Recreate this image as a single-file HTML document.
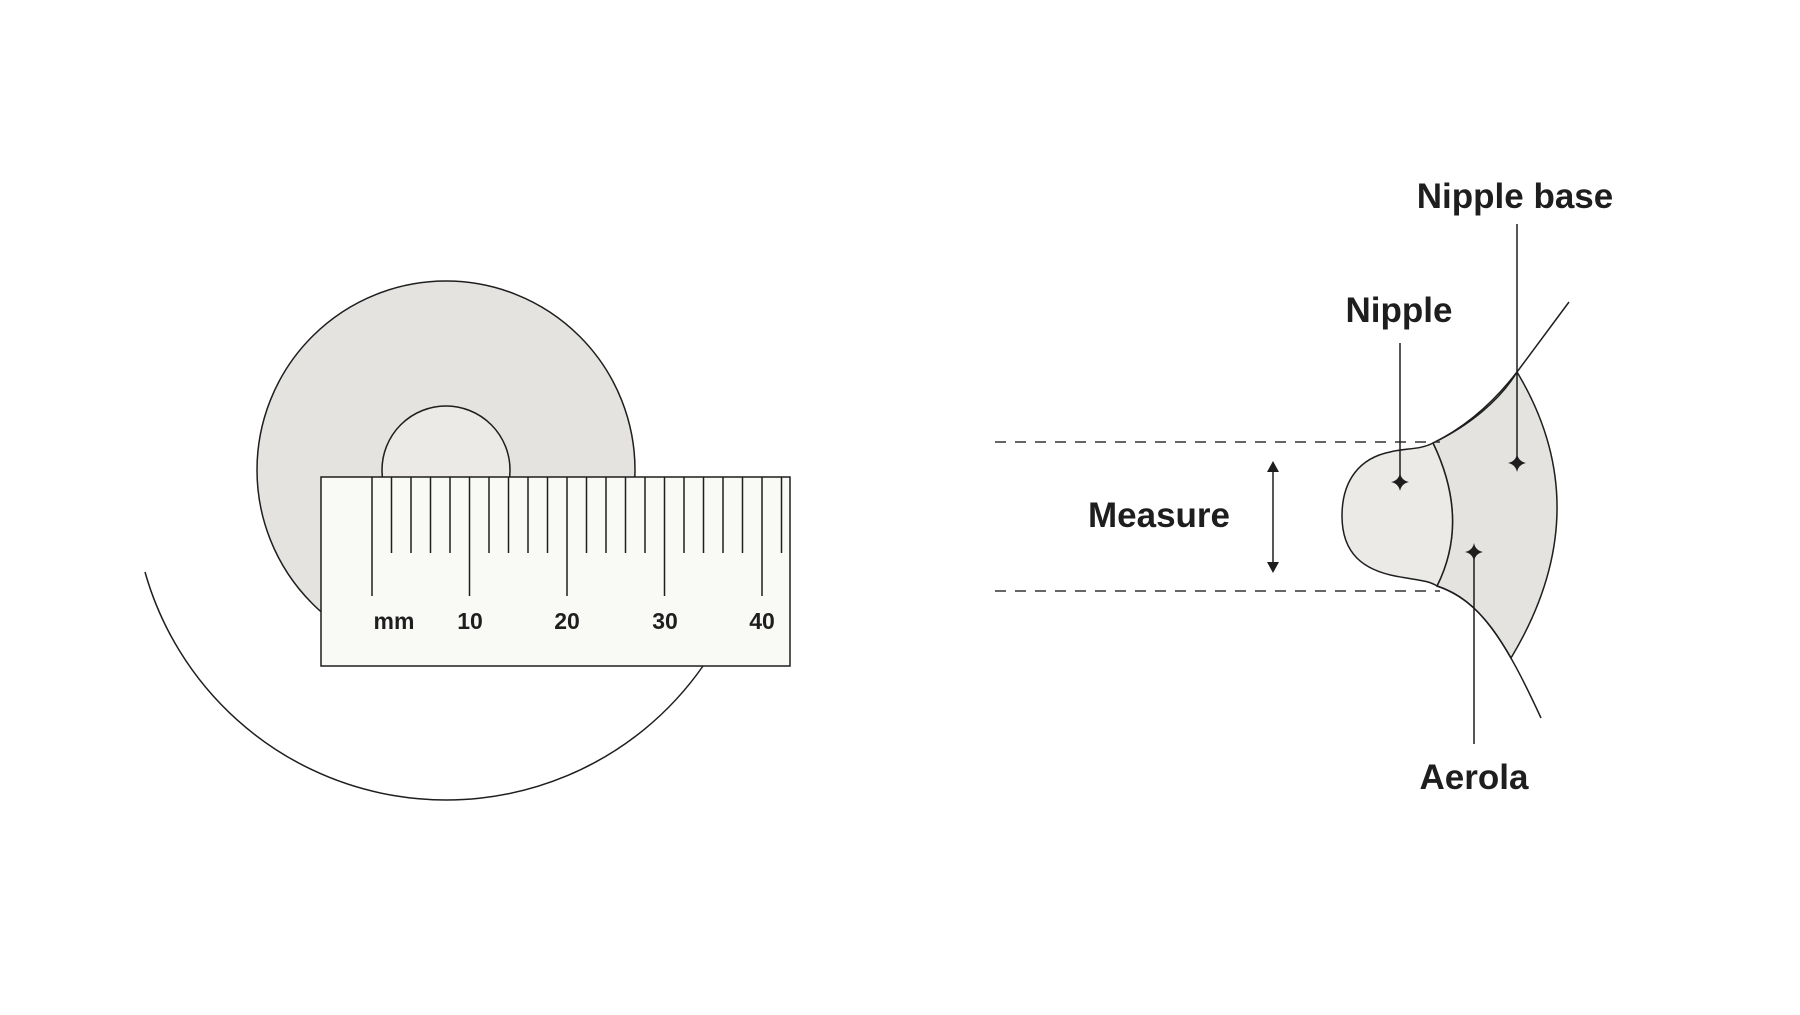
<!DOCTYPE html>
<html><head><meta charset="utf-8"><style>
html,body{margin:0;padding:0;background:#fff;}
svg{display:block;}
text{font-family:"Liberation Sans",sans-serif;font-weight:bold;fill:#1e1e1e;}
</style></head><body>
<svg width="1800" height="1015" viewBox="0 0 1800 1015" xmlns="http://www.w3.org/2000/svg">
<defs>
<path id="star" d="M0,-9 Q1.5,-1.5 9,0 Q1.5,1.5 0,9 Q-1.5,1.5 -9,0 Q-1.5,-1.5 0,-9Z" fill="#1e1e1e"/>
</defs>
<!-- left -->
<path d="M145,572 A313,313 0 0 0 703,666" fill="none" stroke="#1e1e1e" stroke-width="1.5"/>
<circle cx="446" cy="470" r="189" fill="#e4e3e0" stroke="#1e1e1e" stroke-width="1.5"/>
<circle cx="446" cy="470" r="64" fill="#ebeae6" stroke="#1e1e1e" stroke-width="1.5"/>
<rect x="321" y="477" width="469" height="189" fill="#f9f9f6" stroke="#1e1e1e" stroke-width="1.5"/>
<g stroke="#1e1e1e" stroke-width="1.5">
<line x1="372" y1="477" x2="372" y2="596"/>
<line x1="391.5" y1="477" x2="391.5" y2="553"/>
<line x1="411" y1="477" x2="411" y2="553"/>
<line x1="430.5" y1="477" x2="430.5" y2="553"/>
<line x1="450" y1="477" x2="450" y2="553"/>
<line x1="469.5" y1="477" x2="469.5" y2="596"/>
<line x1="489" y1="477" x2="489" y2="553"/>
<line x1="508.5" y1="477" x2="508.5" y2="553"/>
<line x1="528" y1="477" x2="528" y2="553"/>
<line x1="547.5" y1="477" x2="547.5" y2="553"/>
<line x1="567" y1="477" x2="567" y2="596"/>
<line x1="586.5" y1="477" x2="586.5" y2="553"/>
<line x1="606" y1="477" x2="606" y2="553"/>
<line x1="625.5" y1="477" x2="625.5" y2="553"/>
<line x1="645" y1="477" x2="645" y2="553"/>
<line x1="664.5" y1="477" x2="664.5" y2="596"/>
<line x1="684" y1="477" x2="684" y2="553"/>
<line x1="703.5" y1="477" x2="703.5" y2="553"/>
<line x1="723" y1="477" x2="723" y2="553"/>
<line x1="742.5" y1="477" x2="742.5" y2="553"/>
<line x1="762" y1="477" x2="762" y2="596"/>
<line x1="781.5" y1="477" x2="781.5" y2="553"/>
</g>
<g font-size="23" text-anchor="middle">
<text x="394" y="629">mm</text>
<text x="470" y="629">10</text>
<text x="567" y="629">20</text>
<text x="665" y="629">30</text>
<text x="762" y="629">40</text>
</g>
<!-- right -->
<path d="M1433,443 Q1480,420 1517,372 L1569,302" fill="none" stroke="#1e1e1e" stroke-width="1.5"/>
<path d="M1433,443 C1470,425 1500,400 1517,372 Q1600,510 1511,658 C1488,618 1467,596 1437,586 Q1470,520 1433,443Z" fill="#e4e3e0" stroke="#1e1e1e" stroke-width="1.5"/>
<path d="M1437,586 C1480,600 1505,640 1541,718" fill="none" stroke="#1e1e1e" stroke-width="1.5"/>
<path d="M1433,443 C1420,450 1405,448 1390,452 C1360,458 1342,480 1342,516 C1342,555 1365,570 1395,576 C1415,580 1428,580 1437,586 Q1470,520 1433,443Z" fill="#ebeae6" stroke="#1e1e1e" stroke-width="1.5"/>
<g stroke="#333" stroke-width="1.5" stroke-dasharray="11,9">
<line x1="995" y1="442" x2="1440" y2="442"/>
<line x1="995" y1="591" x2="1440" y2="591"/>
</g>
<line x1="1273" y1="468" x2="1273" y2="566" stroke="#1e1e1e" stroke-width="1.5"/>
<path d="M1273,461 L1267,472 L1279,472Z M1273,573 L1267,562 L1279,562Z" fill="#1e1e1e"/>
<text x="1159" y="527" font-size="35" text-anchor="middle">Measure</text>
<g stroke="#1e1e1e" stroke-width="1.5">
<line x1="1517" y1="224" x2="1517" y2="463"/>
<line x1="1400" y1="343" x2="1400" y2="482"/>
<line x1="1474" y1="552" x2="1474" y2="744"/>
</g>
<use href="#star" x="1517" y="463"/>
<use href="#star" x="1400" y="482"/>
<use href="#star" x="1474" y="552"/>
<text x="1515" y="208" font-size="35" text-anchor="middle">Nipple base</text>
<text x="1399" y="322" font-size="35" text-anchor="middle">Nipple</text>
<text x="1474" y="789" font-size="35" text-anchor="middle">Aerola</text>
</svg>
</body></html>
